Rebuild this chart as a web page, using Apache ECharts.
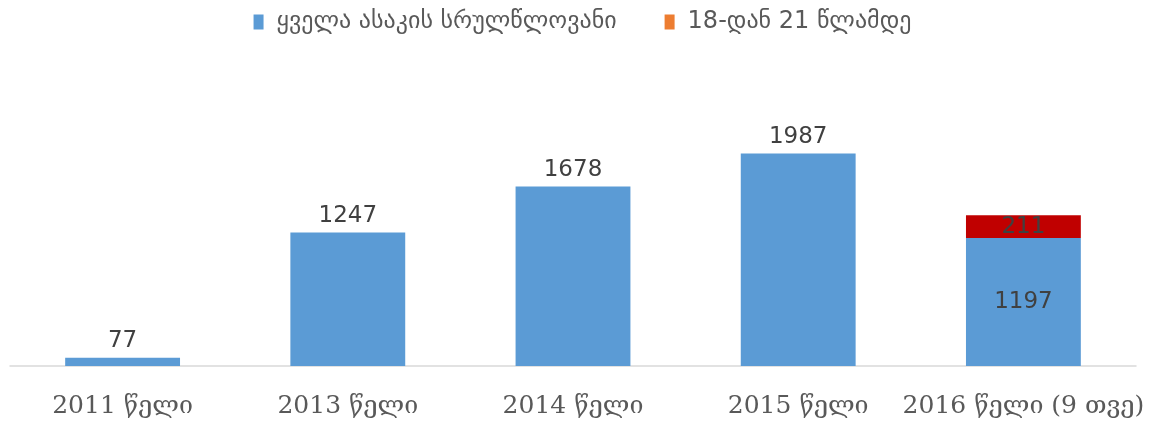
<!DOCTYPE html>
<html><head><meta charset="utf-8">
<script src="https://cdn.jsdelivr.net/npm/echarts@6/dist/echarts.min.js"></script>
<style>html,body{margin:0;padding:0;background:#fff}#c{width:1165px;height:431px}</style>
</head><body><div id="c"></div>
<script>
const categories = ['2011 წელი', '2013 წელი', '2014 წელი', '2015 წელი', '2016 წელი (9 თვე)'];
const adultsAll = [77, 1247, 1678, 1987, 1197];
const ages18to21 = [null, null, null, null, 211];
const seriesNames = ['ყველა ასაკის სრულწლოვანი', '18-დან 21 წლამდე'];

const chart = echarts.init(document.getElementById('c'));
chart.setOption({
  animation: false,
  legend: {
    top: 5, left: 'center', itemWidth: 10, itemHeight: 15, itemGap: 48, icon: 'rect',
    textStyle: {fontFamily: 'DejaVu Sans', fontSize: 24, color: '#595959', padding: [0, 0, 0, 8]}
  },
  grid: {left: 10, right: 29, top: 152, bottom: 65},
  xAxis: {
    type: 'category', data: categories,
    axisLine: {lineStyle: {color: '#d9d9d9', width: 1.5}},
    axisTick: {show: false},
    axisLabel: {interval: 0, margin: 28, fontFamily: 'DejaVu Serif', fontSize: 25, color: '#595959'}
  },
  yAxis: {type: 'value', min: 0, max: 2000, show: false, splitLine: {show: false}},
  series: [
    {
      name: seriesNames[0], type: 'bar', stack: 's', barWidth: '51%',
      itemStyle: {color: '#5B9BD5'},
      label: {show: true, position: 'top', fontFamily: 'DejaVu Sans', fontSize: 23, color: '#404040', distance: 5},
      data: adultsAll.map((v, i) => i === 4 ? {value: v, label: {position: 'inside'}} : v)
    },
    {
      name: seriesNames[1], type: 'bar', stack: 's', barWidth: '51%',
      itemStyle: {color: '#ED7D31'},
      label: {show: true, position: 'inside', fontFamily: 'DejaVu Sans', fontSize: 23, color: '#404040'},
      data: ages18to21.map(v => v == null ? null : {value: v, itemStyle: {color: '#C00000'}})
    }
  ]
});
</script></body></html>
